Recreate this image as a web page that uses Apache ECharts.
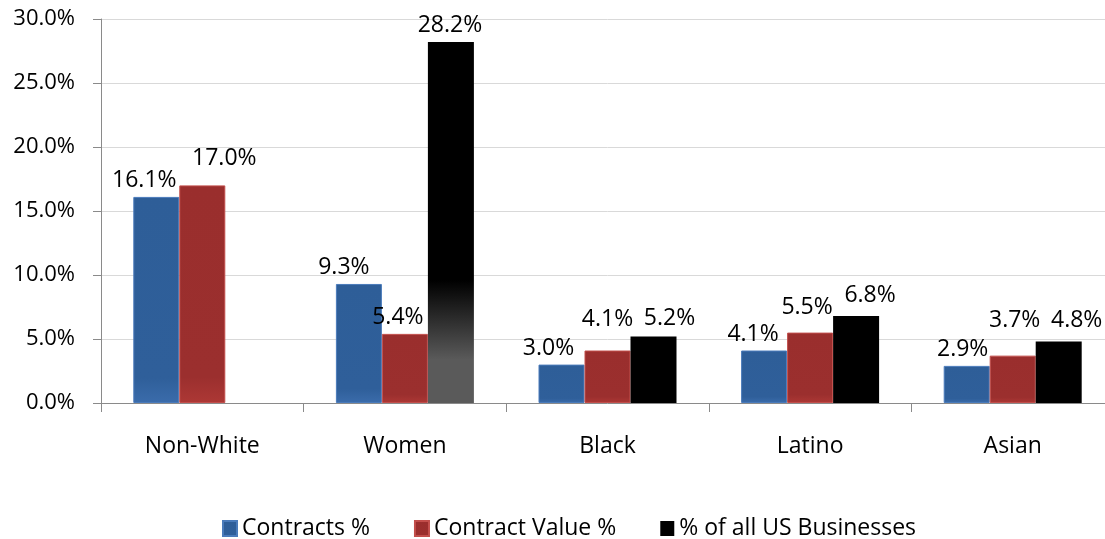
<!DOCTYPE html>
<html>
<head>
<meta charset="utf-8">
<script src="https://cdn.jsdelivr.net/npm/echarts@6/dist/echarts.min.js"></script>
<style>
  html, body { margin: 0; padding: 0; background: #fff; overflow: hidden; width: 1105px; height: 539px; }
  #chart { width: 1114px; height: 539px; }
</style>
</head>
<body>
<div id="chart"></div>
<script>
// Share of federal contracting by group, in percent
const categories = ['Non-White', 'Women', 'Black', 'Latino', 'Asian'];
const contractsPct = [16.1, 9.3, 3.0, 4.1, 2.9];
const contractValuePct = [17.0, 5.4, 4.1, 5.5, 3.7];
const usBusinessesPct = [null, 28.2, 5.2, 6.8, 4.8];
const seriesNames = ['Contracts %', 'Contract Value %', '% of all US Businesses'];
const yTicks = [0, 5, 10, 15, 20, 25, 30];

// Label nudges [dx, dy] so neighbouring value labels don't collide
const labelNudge = [
  [[-12, 0], [-15, 0], [-13, 0], [-11, 0], [-4, 0]],
  [[22, -10], [-7, 0], [0, -15], [-3, -9], [2, -19]],
  [[0, 0], [-1, 0], [16, -1], [14, -4], [18, -5]]
];

const FONT = '"Open Sans", "Liberation Sans", sans-serif';
const G = echarts.graphic.LinearGradient;

const blueFill = new G(0, 0, 0, 1, [
  { offset: 0, color: '#2e5e98' }, { offset: 0.88, color: '#2f5f9a' }, { offset: 1, color: '#3b6cab' }
]);
const redFill = new G(0, 0, 0, 1, [
  { offset: 0, color: '#9a2e2d' }, { offset: 0.88, color: '#9b2f2e' }, { offset: 1, color: '#ad3835' }
]);
// the tall Women bar fades to grey toward its base
const fadeFill = new G(0, 0, 0, 1, [
  { offset: 0, color: '#000000' }, { offset: 0.66, color: '#000000' },
  { offset: 0.88, color: '#5a5a5a' }, { offset: 1, color: '#5a5a5a' }
]);

function buildData(values, s) {
  return values.map((v, i) => {
    const item = {
      value: v,
      label: { offset: labelNudge[s][i] }
    };
    if (s === 2 && i === 1) item.itemStyle = { color: fadeFill, borderWidth: 0 };
    return item;
  });
}

const labelStyle = {
  show: true,
  position: 'top',
  distance: 5,
  fontFamily: FONT,
  fontSize: 23,
  color: '#000',
  formatter: p => p.value == null ? '' : p.value.toFixed(1) + '%'
};

const chart = echarts.init(document.getElementById('chart'), null, { renderer: 'canvas' });
chart.setOption({
  animation: false,
  backgroundColor: '#ffffff',
  textStyle: { fontFamily: FONT },
  grid: { left: 101, top: 19, right: 0, height: 384, containLabel: false },
  legend: {
    left: 217,
    top: 512,
    itemWidth: 14,
    itemHeight: 15,
    itemGap: 44,
    icon: 'rect',
    textStyle: { fontFamily: FONT, fontSize: 23, color: '#000' },
    data: seriesNames
  },
  xAxis: {
    type: 'category',
    data: categories,
    axisLine: { lineStyle: { color: '#8a8a8a', width: 1 } },
    axisTick: { show: true, length: 9, lineStyle: { color: '#8a8a8a' } },
    axisLabel: { fontFamily: FONT, fontSize: 23, color: '#000', margin: 32 }
  },
  yAxis: {
    type: 'value',
    min: yTicks[0],
    max: yTicks[yTicks.length - 1],
    interval: yTicks[1] - yTicks[0],
    axisLine: { show: true, lineStyle: { color: '#8a8a8a', width: 1 } },
    axisTick: { show: true, length: 8, lineStyle: { color: '#8a8a8a' } },
    splitLine: { lineStyle: { color: '#d9d9d9', width: 1 } },
    axisLabel: {
      fontFamily: FONT, fontSize: 22, color: '#000', margin: 26,
      formatter: v => v.toFixed(1) + '%'
    }
  },
  series: [
    {
      name: seriesNames[0], type: 'bar', barWidth: 46, barGap: '0%',
      itemStyle: { color: blueFill, borderColor: '#4a7bbb', borderWidth: 1 },
      label: labelStyle,
      data: buildData(contractsPct, 0)
    },
    {
      name: seriesNames[1], type: 'bar', barWidth: 46, barGap: '0%',
      itemStyle: { color: redFill, borderColor: '#c24e4b', borderWidth: 1 },
      label: labelStyle,
      data: buildData(contractValuePct, 1)
    },
    {
      name: seriesNames[2], type: 'bar', barWidth: 46, barGap: '0%',
      itemStyle: { color: '#000000' },
      label: labelStyle,
      data: buildData(usBusinessesPct, 2)
    }
  ]
});
</script>
</body>
</html>
